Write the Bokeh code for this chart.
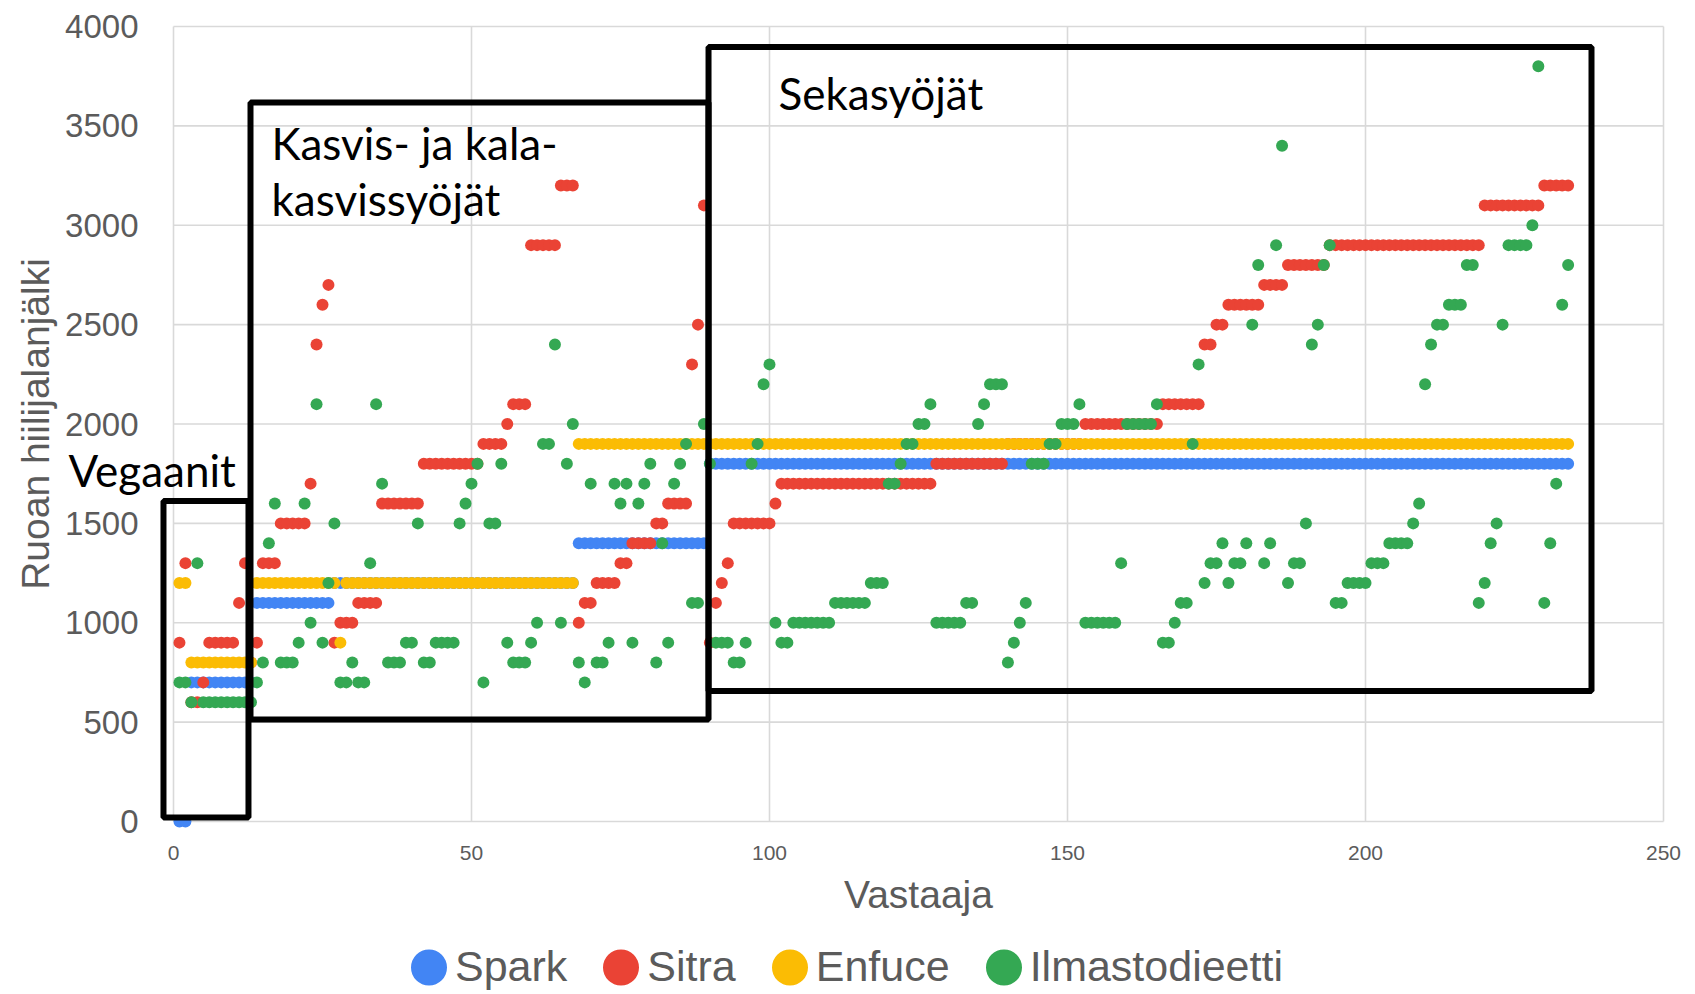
from bokeh.plotting import figure
from bokeh.models import Range1d, FixedTicker, Legend, LegendItem, Label, ColumnDataSource
from bokeh.embed import file_html
from bokeh.resources import INLINE

# ---------------- data ----------------
RESPONDENT = list(range(1, 235))

SPARK = [
    0, 0, 700, 700, 700, 700, 700, 700, 700, 700,
    700, 700, 700, 1100, 1100, 1100, 1100, 1100, 1100, 1100,
    1100, 1100, 1100, 1100, 1100, 1100, 1200, 1200, 1200, 1200,
    1200, 1200, 1200, 1200, 1200, 1200, 1200, 1200, 1200, 1200,
    1200, 1200, 1200, 1200, 1200, 1200, 1200, 1200, 1200, 1200,
    1200, 1200, 1200, 1200, 1200, 1200, 1200, 1200, 1200, 1200,
    1200, 1200, 1200, 1200, 1200, 1200, 1200, 1400, 1400, 1400,
    1400, 1400, 1400, 1400, 1400, 1400, 1400, 1400, 1400, 1400,
    1400, 1400, 1400, 1400, 1400, 1400, 1400, 1400, 1400, 1800,
    1800, 1800, 1800, 1800, 1800, 1800, 1800, 1800, 1800, 1800,
    1800, 1800, 1800, 1800, 1800, 1800, 1800, 1800, 1800, 1800,
    1800, 1800, 1800, 1800, 1800, 1800, 1800, 1800, 1800, 1800,
    1800, 1800, 1800, 1800, 1800, 1800, 1800, 1800, 1800, 1800,
    1800, 1800, 1800, 1800, 1800, 1800, 1800, 1800, 1800, 1800,
    1800, 1800, 1800, 1800, 1800, 1800, 1800, 1800, 1800, 1800,
    1800, 1800, 1800, 1800, 1800, 1800, 1800, 1800, 1800, 1800,
    1800, 1800, 1800, 1800, 1800, 1800, 1800, 1800, 1800, 1800,
    1800, 1800, 1800, 1800, 1800, 1800, 1800, 1800, 1800, 1800,
    1800, 1800, 1800, 1800, 1800, 1800, 1800, 1800, 1800, 1800,
    1800, 1800, 1800, 1800, 1800, 1800, 1800, 1800, 1800, 1800,
    1800, 1800, 1800, 1800, 1800, 1800, 1800, 1800, 1800, 1800,
    1800, 1800, 1800, 1800, 1800, 1800, 1800, 1800, 1800, 1800,
    1800, 1800, 1800, 1800, 1800, 1800, 1800, 1800, 1800, 1800,
    1800, 1800, 1800, 1800,
]

SITRA = [
    900, 1300, 600, 600, 700, 900, 900, 900, 900, 900,
    1100, 1300, 800, 900, 1300, 1300, 1300, 1500, 1500, 1500,
    1500, 1500, 1700, 2400, 2600, 2700, 900, 1000, 1000, 1000,
    1100, 1100, 1100, 1100, 1600, 1600, 1600, 1600, 1600, 1600,
    1600, 1800, 1800, 1800, 1800, 1800, 1800, 1800, 1800, 1800,
    1800, 1900, 1900, 1900, 1900, 2000, 2100, 2100, 2100, 2900,
    2900, 2900, 2900, 2900, 3200, 3200, 3200, 1000, 1100, 1100,
    1200, 1200, 1200, 1200, 1300, 1300, 1400, 1400, 1400, 1400,
    1500, 1500, 1600, 1600, 1600, 1600, 2300, 2500, 3100, 900,
    1100, 1200, 1300, 1500, 1500, 1500, 1500, 1500, 1500, 1500,
    1600, 1700, 1700, 1700, 1700, 1700, 1700, 1700, 1700, 1700,
    1700, 1700, 1700, 1700, 1700, 1700, 1700, 1700, 1700, 1700,
    1700, 1700, 1700, 1700, 1700, 1700, 1700, 1800, 1800, 1800,
    1800, 1800, 1800, 1800, 1800, 1800, 1800, 1800, 1800, 1900,
    1900, 1900, 1900, 1900, 1900, 1900, 1900, 1900, 1900, 1900,
    1900, 1900, 2000, 2000, 2000, 2000, 2000, 2000, 2000, 2000,
    2000, 2000, 2000, 2000, 2000, 2100, 2100, 2100, 2100, 2100,
    2100, 2100, 2400, 2400, 2500, 2500, 2600, 2600, 2600, 2600,
    2600, 2600, 2700, 2700, 2700, 2700, 2800, 2800, 2800, 2800,
    2800, 2800, 2800, 2900, 2900, 2900, 2900, 2900, 2900, 2900,
    2900, 2900, 2900, 2900, 2900, 2900, 2900, 2900, 2900, 2900,
    2900, 2900, 2900, 2900, 2900, 2900, 2900, 2900, 2900, 3100,
    3100, 3100, 3100, 3100, 3100, 3100, 3100, 3100, 3100, 3200,
    3200, 3200, 3200, 3200,
]

ENFUCE = [
    1200, 1200, 800, 800, 800, 800, 800, 800, 800, 800,
    800, 800, 800, 1200, 1200, 1200, 1200, 1200, 1200, 1200,
    1200, 1200, 1200, 1200, 1200, 1200, 1200, 900, 1200, 1200,
    1200, 1200, 1200, 1200, 1200, 1200, 1200, 1200, 1200, 1200,
    1200, 1200, 1200, 1200, 1200, 1200, 1200, 1200, 1200, 1200,
    1200, 1200, 1200, 1200, 1200, 1200, 1200, 1200, 1200, 1200,
    1200, 1200, 1200, 1200, 1200, 1200, 1200, 1900, 1900, 1900,
    1900, 1900, 1900, 1900, 1900, 1900, 1900, 1900, 1900, 1900,
    1900, 1900, 1900, 1900, 1900, 1900, 1900, 1900, 1900, 1900,
    1900, 1900, 1900, 1900, 1900, 1900, 1900, 1900, 1900, 1900,
    1900, 1900, 1900, 1900, 1900, 1900, 1900, 1900, 1900, 1900,
    1900, 1900, 1900, 1900, 1900, 1900, 1900, 1900, 1900, 1900,
    1900, 1900, 1900, 1900, 1900, 1900, 1900, 1900, 1900, 1900,
    1900, 1900, 1900, 1900, 1900, 1900, 1900, 1900, 1900, 1900,
    1900, 1900, 1900, 1900, 1900, 1900, 1900, 1900, 1900, 1900,
    1900, 1900, 1900, 1900, 1900, 1900, 1900, 1900, 1900, 1900,
    1900, 1900, 1900, 1900, 1900, 1900, 1900, 1900, 1900, 1900,
    1900, 1900, 1900, 1900, 1900, 1900, 1900, 1900, 1900, 1900,
    1900, 1900, 1900, 1900, 1900, 1900, 1900, 1900, 1900, 1900,
    1900, 1900, 1900, 1900, 1900, 1900, 1900, 1900, 1900, 1900,
    1900, 1900, 1900, 1900, 1900, 1900, 1900, 1900, 1900, 1900,
    1900, 1900, 1900, 1900, 1900, 1900, 1900, 1900, 1900, 1900,
    1900, 1900, 1900, 1900, 1900, 1900, 1900, 1900, 1900, 1900,
    1900, 1900, 1900, 1900,
]

ILMASTO = [
    700, 700, 600, 1300, 600, 600, 600, 600, 600, 600,
    600, 600, 600, 700, 800, 1400, 1600, 800, 800, 800,
    900, 1600, 1000, 2100, 900, 1200, 1500, 700, 700, 800,
    700, 700, 1300, 2100, 1700, 800, 800, 800, 900, 900,
    1500, 800, 800, 900, 900, 900, 900, 1500, 1600, 1700,
    1800, 700, 1500, 1500, 1800, 900, 800, 800, 800, 900,
    1000, 1900, 1900, 2400, 1000, 1800, 2000, 800, 700, 1700,
    800, 800, 900, 1700, 1600, 1700, 900, 1600, 1700, 1800,
    800, 1400, 900, 1700, 1800, 1900, 1100, 1100, 2000, 1800,
    900, 900, 900, 800, 800, 900, 1800, 1900, 2200, 2300,
    1000, 900, 900, 1000, 1000, 1000, 1000, 1000, 1000, 1000,
    1100, 1100, 1100, 1100, 1100, 1100, 1200, 1200, 1200, 1700,
    1700, 1800, 1900, 1900, 2000, 2000, 2100, 1000, 1000, 1000,
    1000, 1000, 1100, 1100, 2000, 2100, 2200, 2200, 2200, 800,
    900, 1000, 1100, 1800, 1800, 1800, 1900, 1900, 2000, 2000,
    2000, 2100, 1000, 1000, 1000, 1000, 1000, 1000, 1300, 2000,
    2000, 2000, 2000, 2000, 2100, 900, 900, 1000, 1100, 1100,
    1900, 2300, 1200, 1300, 1300, 1400, 1200, 1300, 1300, 1400,
    2500, 2800, 1300, 1400, 2900, 3400, 1200, 1300, 1300, 1500,
    2400, 2500, 2800, 2900, 1100, 1100, 1200, 1200, 1200, 1200,
    1300, 1300, 1300, 1400, 1400, 1400, 1400, 1500, 1600, 2200,
    2400, 2500, 2500, 2600, 2600, 2600, 2800, 2800, 1100, 1200,
    1400, 1500, 2500, 2900, 2900, 2900, 2900, 3000, 3800, 1100,
    1400, 1700, 2600, 2800,
]

SERIES_NAMES = ["Spark", "Sitra", "Enfuce", "Ilmastodieetti"]
SERIES_COLORS = ["#4285F4", "#EA4335", "#FBBC04", "#34A853"]
X_TICKS = [0, 50, 100, 150, 200, 250]
Y_TICKS = [0, 500, 1000, 1500, 2000, 2500, 3000, 3500, 4000]
X_TITLE = "Vastaaja"
Y_TITLE = "Ruoan hiilijalanjälki"
GROUP_TEXTS = ["Vegaanit", "Kasvis- ja kala-", "kasvissyöjät", "Sekasyöjät"]

for s in (SPARK, SITRA, ENFUCE, ILMASTO):
    assert len(s) == len(RESPONDENT)

# ---------------- layout / geometry ----------------
W, H = 1690, 992
PX_PER_X = 5.96      # pixels per respondent
PX_PER_Y = 0.19875   # pixels per unit
X0_PX, Y0_PX = 173.0, 821.0   # canvas position of (0, 0)

x_start = -X0_PX / PX_PER_X
x_end = (W - X0_PX) / PX_PER_X
y_end = Y0_PX / PX_PER_Y
y_start = -(H - Y0_PX) / PX_PER_Y

p = figure(width=W, height=H, x_range=Range1d(x_start, x_end), y_range=Range1d(y_start, y_end),
           output_backend="svg", toolbar_location=None, title=None,
           min_border=0, min_border_left=0, min_border_right=0, min_border_top=0, min_border_bottom=0)
p.outline_line_color = None
p.xgrid.visible = False
p.ygrid.visible = False
p.background_fill_color = "white"

GRID = "#d9d9d9"
# gridlines limited to the chart area
p.segment(x0=[X_TICKS[0]] * len(Y_TICKS), x1=[X_TICKS[-1]] * len(Y_TICKS), y0=Y_TICKS, y1=Y_TICKS,
          line_color=GRID, line_width=1.6)
p.segment(x0=X_TICKS, x1=X_TICKS, y0=[Y_TICKS[0]] * len(X_TICKS), y1=[Y_TICKS[-1]] * len(X_TICKS),
          line_color=GRID, line_width=1.6)

TXT = "#5b5b5b"
FONT = "Liberation Sans"

ax = p.xaxis[0]
ax.ticker = FixedTicker(ticks=X_TICKS)
ax.fixed_location = 0
ax.bounds = (X_TICKS[0], X_TICKS[-1])
ax.axis_line_color = None
ax.major_tick_line_color = None
ax.minor_tick_line_color = None
ax.major_label_standoff = 18
ax.major_label_text_font = FONT
ax.major_label_text_font_size = "21px"
ax.major_label_text_color = TXT
ax.axis_label = X_TITLE
ax.axis_label_text_font = FONT
ax.axis_label_text_font_size = "39px"
ax.axis_label_text_font_style = "normal"
ax.axis_label_text_color = TXT
ax.axis_label_standoff = 10

ay = p.yaxis[0]
ay.ticker = FixedTicker(ticks=Y_TICKS)
ay.fixed_location = 0
ay.bounds = (Y_TICKS[0], Y_TICKS[-1])
ay.axis_line_color = None
ay.major_tick_line_color = None
ay.minor_tick_line_color = None
ay.major_label_standoff = 29
ay.major_label_text_font = FONT
ay.major_label_text_font_size = "33px"
ay.major_label_text_color = TXT
ay.axis_label = Y_TITLE
ay.axis_label_text_font = FONT
ay.axis_label_text_font_size = "39px"
ay.axis_label_text_font_style = "normal"
ay.axis_label_text_color = TXT
ay.axis_label_standoff = 5

renderers = []
for name, color, vals in zip(SERIES_NAMES, SERIES_COLORS, (SPARK, SITRA, ENFUCE, ILMASTO)):
    src = ColumnDataSource(dict(x=RESPONDENT, y=vals))
    r = p.ellipse("x", "y", source=src, width=12, height=12,
                  width_units="screen", height_units="screen",
                  fill_color=color, line_color=None)
    renderers.append(r)

# group boxes (annotation geometry, data units)
BOX_LEFT = [-1.68, 12.92, 89.77]
BOX_RIGHT = [12.58, 89.77, 237.92]
BOX_BOTTOM = [20.0, 513.0, 657.0]
BOX_TOP = [1613.0, 3618.0, 3897.0]
p.quad(left=BOX_LEFT, right=BOX_RIGHT, bottom=BOX_BOTTOM, top=BOX_TOP,
       fill_color=None, line_color="black", line_width=6)

TEXT_POS = [(-17.6, 1771.0), (16.44, 3416.0), (16.44, 3131.0), (101.5, 3667.0)]
for t, (tx, ty) in zip(GROUP_TEXTS, TEXT_POS):
    p.add_layout(Label(x=tx, y=ty, text=t, text_font="Lato", text_font_size="44px",
                       text_color="black", text_baseline="alphabetic", text_align="left"))

legend = Legend(items=[LegendItem(label=n, renderers=[r]) for n, r in zip(SERIES_NAMES, renderers)],
                orientation="horizontal", location=(406, 1),
                glyph_width=45, glyph_height=48, label_standoff=4, spacing=31,
                padding=0, margin=0, border_line_color=None, background_fill_alpha=0,
                label_text_font=FONT, label_text_font_size="43px", label_text_color=TXT)
p.add_layout(legend)

open("out.html", "w").write(file_html(p, INLINE))
